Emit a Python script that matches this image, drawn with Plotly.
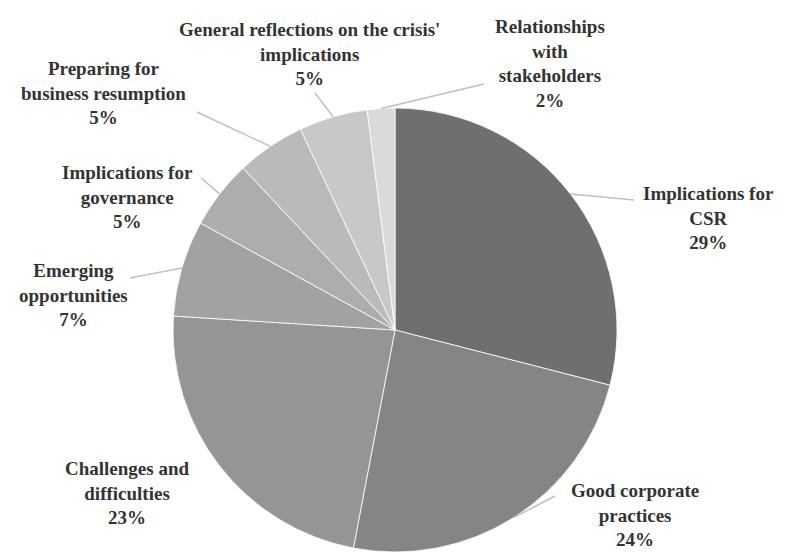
import math
import plotly.graph_objects as go

# ---- data ----
categories = [
    "Implications for CSR",
    "Good corporate practices",
    "Challenges and difficulties",
    "Emerging opportunities",
    "Implications for governance",
    "Preparing for business resumption",
    "General reflections on the crisis' implications",
    "Relationships with stakeholders",
]
values = [29, 24, 23, 7, 5, 5, 5, 2]
label_lines = [
    ["Implications for", "CSR"],
    ["Good corporate", "practices"],
    ["Challenges and", "difficulties"],
    ["Emerging", "opportunities"],
    ["Implications for", "governance"],
    ["Preparing for", "business resumption"],
    ["General reflections on the crisis'", "implications"],
    ["Relationships", "with", "stakeholders"],
]
colors = ["#6f6f6f", "#858585", "#959595", "#a2a2a2",
          "#adadad", "#bababa", "#c8c8c8", "#dadada"]

# ---- layout (pixels) ----
W, H = 785, 554
CX, CY, R = 395, 330, 222
# label block centres
label_pos = [(708, 218), (635, 515), (127, 493), (73, 295),
             (127, 197), (103, 93), (309, 54), (550, 64)]
# label-side end of leader lines (None = no leader)
leader_end = [(634, 200), (555, 496), None, (130, 278),
              (201, 178), (197, 112), (315, 93), (484, 84)]


def px(x):
    return x / W


def py(y):
    return 1 - y / H


fig = go.Figure(go.Pie(
    labels=categories, values=values, sort=False, direction="clockwise",
    rotation=0, textinfo="none", hoverinfo="label+percent",
    marker=dict(colors=colors, line=dict(color="#ffffff", width=0.8)),
    domain=dict(x=[px(CX - R), px(CX + R)], y=[py(CY + R), py(CY - R)]),
    showlegend=False,
))

total = sum(values)
annotations = []
shapes = []
cum = 0
for i, v in enumerate(values):
    mid = (cum + v / 2) / total
    cum += v
    ang = 2 * math.pi * mid
    ex = CX + R * math.sin(ang)
    ey = CY - R * math.cos(ang)
    pct = round(100 * v / total)
    text = "<br>".join(label_lines[i] + [f"{pct}%"])
    lx, ly = label_pos[i]
    annotations.append(dict(
        x=px(lx), y=py(ly), xref="paper", yref="paper", text=text,
        showarrow=False, xanchor="center", yanchor="middle", align="center",
        font=dict(family="Liberation Serif", size=19, color="#333333",
                  weight="bold"),
    ))
    if leader_end[i] is not None:
        lx2, ly2 = leader_end[i]
        shapes.append(dict(
            type="line", xref="paper", yref="paper",
            x0=px(lx2), y0=py(ly2), x1=px(ex), y1=py(ey),
            line=dict(color="#bfbfbf", width=1.5),
        ))

fig.update_layout(
    width=W, height=H, margin=dict(l=0, r=0, t=0, b=0),
    paper_bgcolor="white", plot_bgcolor="white",
    annotations=annotations, shapes=shapes,
)

fig.write_html("out.html")
